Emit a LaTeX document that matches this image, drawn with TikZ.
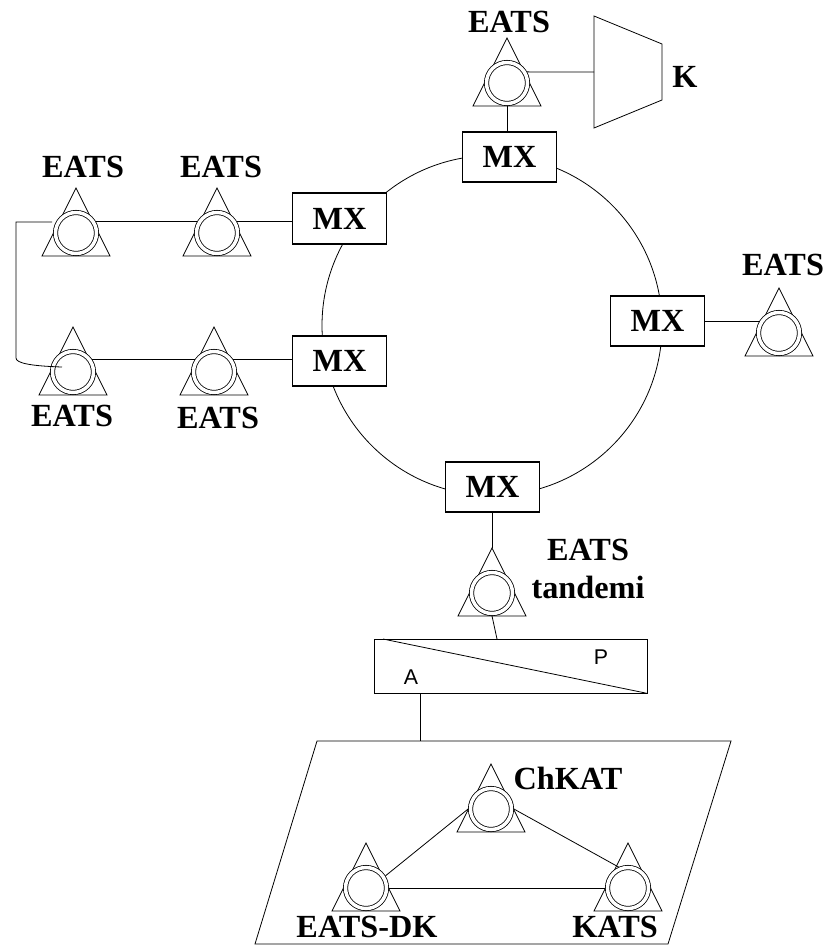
\documentclass[tikz,border=0pt]{standalone}
\usepackage{fontspec}
\setmainfont{Liberation Serif}
\newfontfamily\apfont{Liberation Sans}
\tikzset{
  wire/.style={line width=0.6pt},
  eats/.style={circle, draw, line width=0.6pt, double, double distance=2.6pt, fill=white,
    minimum size=30.75pt, inner sep=0pt, outer sep=1.8pt},
  mxbox/.style={draw, line width=1.3pt, fill=white, minimum width=70.5pt, minimum height=38pt,
    inner sep=0pt, font=\fontsize{24.2}{26}\selectfont\bfseries},
  lbl/.style={inner sep=0pt, font=\fontsize{24.2}{26}\selectfont\bfseries},
  aplbl/.style={inner sep=0pt, font=\fontsize{16}{18}\selectfont\apfont},
}
% triangle with the double circle on it
\newcommand{\eatsnode}[2]{
  \draw[wire] (#2) ++(0,-45) coordinate (#1top) -- ++(34,68) -- ++(-68,0) -- cycle;
  \node[eats] (#1) at (#2) {};
}
\begin{document}
\begin{tikzpicture}[x=0.75pt,y=-0.75pt]
  \useasboundingbox (0,0) rectangle (829,945);

  % Ring with the multiplexers
  \node[circle, draw, wire, minimum size=255pt, inner sep=0pt] (ring) at (492,325.5) {};
  \node[mxbox] (mxt) at (509.5,157) {MX};
  \node[mxbox] (mxa) at (339.5,218.5) {MX};
  \node[mxbox] (mxb) at (339.5,361) {MX};
  \node[mxbox] (mxr) at (657.5,321) {MX};
  \node[mxbox] (mxd) at (492.5,487) {MX};

  % Top exchange and K
  \eatsnode{eatst}{507,83}
  \draw[wire] (594,16) -- (662,44) -- (662,100) -- (594,128) -- cycle;
  \coordinate (kin) at (594,72);
  \draw[wire] (eatst.29) -- (kin);
  \draw[wire] (eatst.south) -- (eatst.south |- mxt.north);
  \node[lbl] (eatstl) at (509,22) {EATS};
  \node[lbl] (klbl) at (685,77) {K};

  % Left chain
  \eatsnode{eatsa}{76,233}
  \eatsnode{eatsb}{217,233}
  \eatsnode{eatsc}{73,372}
  \eatsnode{eatsd}{214,372}
  \draw[wire] (eatsa.29) -- (eatsb.151);
  \draw[wire] (eatsb.29) -- (eatsb.29 -| mxa.west);
  \draw[wire] (eatsc.32) -- (eatsd.148);
  \draw[wire] (eatsd.32) -- (eatsd.32 -| mxb.west);
  \coordinate (loopa) at (52,222);
  \coordinate (loopb) at (62,367);
  \draw[wire] (loopa) -- (16,222) -- (16,358) .. controls (16,363) and (30,366) .. (loopb);
  \node[lbl] (eatsal) at (83,167) {EATS};
  \node[lbl] (eatsbl) at (221,167) {EATS};
  \node[lbl] (eatscl) at (72,416) {EATS};
  \node[lbl] (eatsdl) at (218,418) {EATS};

  % Right exchange
  \eatsnode{eatsr}{779,333}
  \draw[wire] (mxr.east) -- (mxr.east -| eatsr.148);
  \node[lbl] (eatsrl) at (783,265) {EATS};

  % Tandem and the A/P box
  \eatsnode{eatsx}{492,593}
  \draw[wire] (eatsxtop |- mxd.south) -- (eatsxtop);
  \node[lbl] (eatsxl) at (588,550) {EATS};
  \node[lbl] (tandl) at (588,587) {tandemi};
  \node[draw, wire, minimum width=204.75pt, minimum height=40.5pt, inner sep=0pt] (apbox) at (510.5,666) {};
  \coordinate (diaga) at (383,639);
  \draw[wire] (diaga) -- (apbox.south east);
  \coordinate (apin) at (497,639);
  \draw[wire] (eatsx.south) -- (apin);
  \node[aplbl] (plbl) at (601,657) {P};
  \node[aplbl] (albl) at (411,677) {A};

  % Lower network
  \draw[wire] (317,741) -- (731,741) -- (668,944) -- (255,944) -- cycle;
  \coordinate (netin) at (420,741);
  \coordinate (apout) at (420,693);
  \draw[wire] (apout) -- (netin);
  \eatsnode{chkat}{491,809}
  \eatsnode{eatsdk}{366,888}
  \eatsnode{kats}{628,888}
  \draw[wire] (eatsdk.32) -- (chkat.180);
  \draw[wire] (chkat.0) -- (kats.114);
  \draw[wire] (eatsdk.east) -- (kats.west);
  \node[lbl] (chkatl) at (568,778) {ChKAT};
  \node[lbl] (eatsdkl) at (367,927) {EATS-DK};
  \node[lbl] (katsl) at (615,927) {KATS};
\end{tikzpicture}
\end{document}
